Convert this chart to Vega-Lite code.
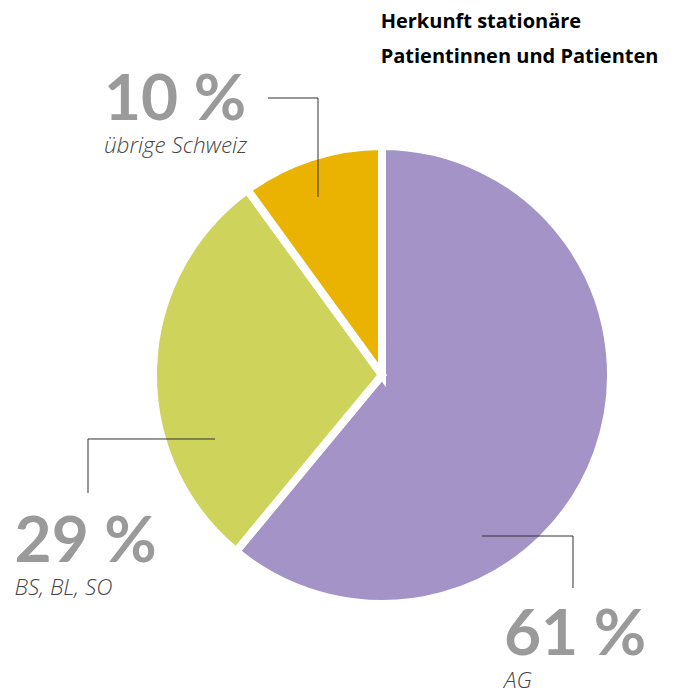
{
  "$schema": "https://vega.github.io/schema/vega-lite/v6.json",
  "width": 608,
  "height": 636,
  "padding": {"left": 78, "top": 57, "right": 0, "bottom": 0},
  "autosize": {"type": "none"},
  "background": "white",
  "config": {"view": {"stroke": null}},
  "datasets": {
    "slices": [
      {"region": "AG", "share": 61, "pct": "61 %", "lx": 54.2, "ly": -124.4},
      {"region": "BS, BL, SO", "share": 29, "pct": "29 %", "lx": -163.3, "ly": -83.1},
      {"region": "übrige Schweiz", "share": 10, "pct": "10 %", "lx": -123.6, "ly": 113.3}
    ],
    "leaders": [
      {"x": -50.67, "y": 123.11, "x2": -28.44, "y2": 123.11},
      {"x": -28.44, "y": 123.11, "x2": -28.44, "y2": 79.11},
      {"x": -74.22, "y": -28.44, "x2": -130.67, "y2": -28.44},
      {"x": -130.67, "y": -28.44, "x2": -130.67, "y2": -52.44},
      {"x": 44.44, "y": -71.56, "x2": 84.89, "y2": -71.56},
      {"x": 84.89, "y": -71.56, "x2": 84.89, "y2": -94.67}
    ],
    "title": [{"text": "Herkunft stationäre\nPatientinnen und Patienten", "tx": -0.6, "ty": 154.2}]
  },
  "layer": [
    {
      "data": {"name": "slices"},
      "mark": {"type": "arc", "outerRadius": 229, "stroke": "white", "strokeWidth": 8},
      "encoding": {
        "theta": {"field": "share", "type": "quantitative", "stack": true},
        "order": {"field": "share", "type": "quantitative", "sort": "descending"},
        "color": {
          "field": "region", "type": "nominal",
          "scale": {"domain": ["AG", "BS, BL, SO", "übrige Schweiz"], "range": ["#A493C7", "#CDD35B", "#EAB301"]},
          "legend": null
        }
      }
    },
    {
      "data": {"name": "leaders"},
      "mark": {"type": "rule", "color": "#333333", "strokeWidth": 1},
      "encoding": {
        "x": {"field": "x", "type": "quantitative", "scale": {"domain": [-135.11, 135.11], "nice": false, "zero": false}, "axis": null},
        "y": {"field": "y", "type": "quantitative", "scale": {"domain": [-141.33, 141.33], "nice": false, "zero": false}, "axis": null},
        "x2": {"field": "x2"},
        "y2": {"field": "y2"}
      }
    },
    {
      "data": {"name": "slices"},
      "mark": {"type": "text", "align": "left", "baseline": "alphabetic", "font": "Lato", "fontWeight": "bold", "fontSize": 64, "color": "#999A99"},
      "encoding": {
        "x": {"field": "lx", "type": "quantitative", "axis": null},
        "y": {"field": "ly", "type": "quantitative", "axis": null},
        "text": {"field": "pct"}
      }
    },
    {
      "data": {"name": "slices"},
      "mark": {"type": "text", "align": "left", "baseline": "alphabetic", "dy": 33, "font": "Open Sans", "fontStyle": "italic", "fontWeight": 300, "fontSize": 22.5, "color": "#444444"},
      "encoding": {
        "x": {"field": "lx", "type": "quantitative", "axis": null},
        "y": {"field": "ly", "type": "quantitative", "axis": null},
        "text": {"field": "region"}
      }
    },
    {
      "data": {"name": "title"},
      "mark": {"type": "text", "align": "left", "baseline": "alphabetic", "lineBreak": "\n", "lineHeight": 35, "font": "Open Sans", "fontWeight": "bold", "fontSize": 20, "color": "#000000"},
      "encoding": {
        "x": {"field": "tx", "type": "quantitative", "axis": null},
        "y": {"field": "ty", "type": "quantitative", "axis": null},
        "text": {"field": "text"}
      }
    }
  ]
}
